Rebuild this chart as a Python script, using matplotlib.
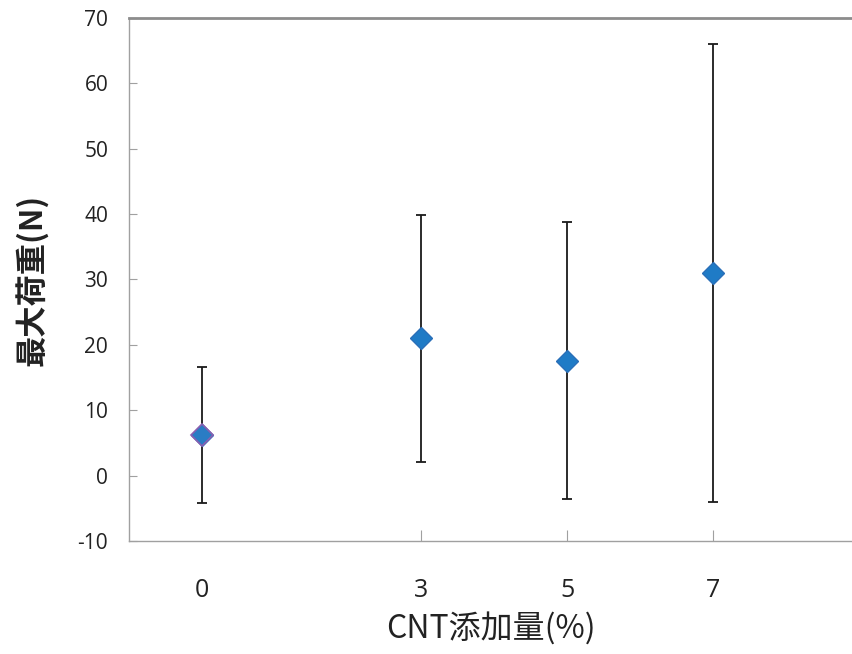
import matplotlib
matplotlib.use('Agg')
from matplotlib import pyplot as plt

# CNT content (%) and max load (N) with error bars
cnt_levels = [0, 3, 5, 7]
max_load = [6.2, 21.0, 17.6, 31.0]
load_err = [10.4, 18.9, 21.2, 35.0]
x_labels = ['0', '3', '5', '7']
y_ticks = [-10, 0, 10, 20, 30, 40, 50, 60, 70]

plt.rcParams['font.family'] = ['Open Sans', 'Noto Sans CJK JP', 'DejaVu Sans']
plt.rcParams['axes.unicode_minus'] = False

fig = plt.figure(figsize=(8.52, 6.54), dpi=100)
ax = fig.add_axes([0.1514, 0.1728, 0.8486, 0.7997])

ax.errorbar(cnt_levels, max_load, yerr=load_err, fmt='none', ecolor='#1a1a1a',
            elinewidth=1.3, capsize=3.5, capthick=1.3, zorder=2)
ax.plot(cnt_levels, max_load, linestyle='none', marker='D', markersize=11,
        markerfacecolor='#1f7bc6', markeredgecolor='#2a6fb8', markeredgewidth=1, zorder=3)
# first point has a purplish outline in the original
ax.plot(cnt_levels[:1], max_load[:1], linestyle='none', marker='D', markersize=11,
        markerfacecolor='#2a7cc4', markeredgecolor='#8a5fb0', markeredgewidth=1.2, zorder=4)

ax.set_xlim(-1.0, 8.9)
ax.set_ylim(-10, 70)
ax.set_yticks(y_ticks)
ax.set_xticks(cnt_levels)
ax.set_xticklabels(x_labels)

for side in ['left', 'bottom']:
    ax.spines[side].set_color('#a0a0a0')
    ax.spines[side].set_linewidth(1.0)
ax.spines['top'].set_color('#8c8c8c')
ax.spines['top'].set_linewidth(2.0)
ax.spines['right'].set_visible(False)

ax.tick_params(axis='y', direction='in', length=6, width=0.8, color='#a0a0a0',
               labelsize=15, labelcolor='#222222', pad=15)
ax.tick_params(axis='x', direction='in', length=8, width=0.8, color='#a0a0a0',
               labelsize=18, labelcolor='#222222', pad=27)
ax.xaxis.get_major_ticks()[0].tick1line.set_visible(False)

ax.set_xlabel('CNT添加量(%)', fontsize=23, color='#222222',
              family=['Noto Sans CJK JP', 'DejaVu Sans'], labelpad=6)
ax.set_ylabel('最大荷重(N)', fontsize=22.5, fontweight='bold', color='#222222',
              family=['Noto Sans CJK JP', 'DejaVu Sans'], labelpad=20)

plt.savefig('out.png', dpi=100)
plt.close()
